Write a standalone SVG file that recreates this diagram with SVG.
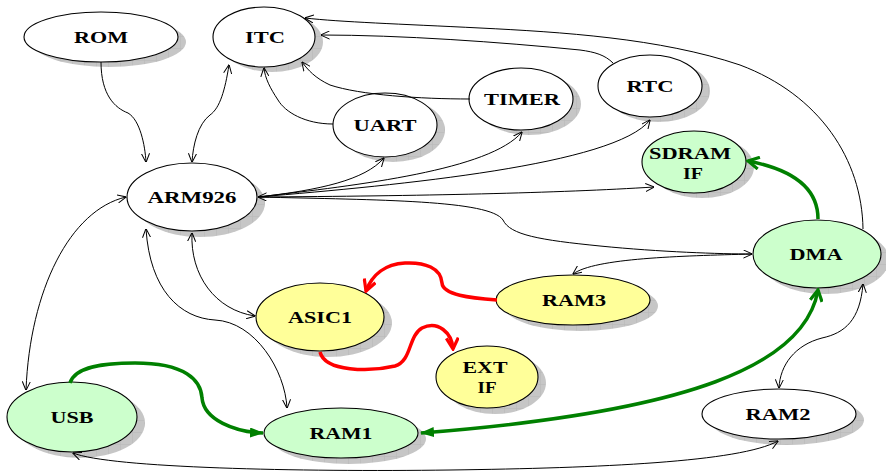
<svg xmlns="http://www.w3.org/2000/svg" width="886" height="474" viewBox="0 0 886 474">
  <style>
    .shadow { fill: url(#shade); stroke: none; }
    .node { stroke: #000; stroke-width: 1.1; }
    .plain { fill: #fff; }
    .green { fill: #ccffcc; }
    .yellow { fill: #ffff99; }
    .label { font-family: "Liberation Serif", "Times New Roman", serif; font-weight: bold; font-size: 17px; fill: #000; text-anchor: middle; }
    .edge { fill: none; stroke: #000; stroke-width: 1; }
    .edge-green { fill: none; stroke: #008000; stroke-width: 3.5; }
    .edge-red { fill: none; stroke: #ff0000; stroke-width: 3.5; }
  </style>
  <defs>
    <pattern id="shade" width="12" height="12" patternUnits="userSpaceOnUse">
      <rect width="12" height="12" fill="#c6c6c6"/>
      <path d="M0,0.5 H12 M0.5,0 V12" stroke="#b8b8b8" stroke-width="0.6"/>
    </pattern>
    <marker id="arrow" viewBox="0 0 10 10" refX="9.5" refY="5" markerWidth="9" markerHeight="9" markerUnits="userSpaceOnUse" orient="auto-start-reverse">
      <path d="M0,0.5 L10,5 L0,9.5" fill="none" stroke="#000" stroke-width="1.1"/>
    </marker>
    <marker id="chev-green" viewBox="0 0 14 14" refX="12" refY="7" markerWidth="14" markerHeight="14" markerUnits="userSpaceOnUse" orient="auto-start-reverse">
      <path d="M1,1 L12,7 L1,13" fill="none" stroke="#008000" stroke-width="3.2"/>
    </marker>
    <marker id="tri-green" viewBox="0 0 14 10" refX="13" refY="5" markerWidth="14" markerHeight="10" markerUnits="userSpaceOnUse" orient="auto-start-reverse">
      <path d="M0,0 L14,5 L0,10 Z" fill="#008000"/>
    </marker>
    <marker id="chev-red" viewBox="0 0 14 14" refX="12" refY="7" markerWidth="14" markerHeight="14" markerUnits="userSpaceOnUse" orient="auto-start-reverse">
      <path d="M1,1 L12,7 L1,13" fill="none" stroke="#ff0000" stroke-width="3.2"/>
    </marker>
  </defs>

  <rect width="886" height="474" fill="#fff"/>

  <!-- nodes -->
  <g id="rom">
    <ellipse class="shadow" cx="109" cy="42" rx="77" ry="25"/>
    <ellipse class="node plain" cx="101" cy="37" rx="77" ry="25"/>
    <text class="label" x="101" y="43" textLength="54" lengthAdjust="spacingAndGlyphs">ROM</text>
  </g>
  <g id="itc">
    <ellipse class="shadow" cx="272" cy="42" rx="51" ry="30"/>
    <ellipse class="node plain" cx="264" cy="37" rx="51" ry="30"/>
    <text class="label" x="265" y="43" textLength="40" lengthAdjust="spacingAndGlyphs">ITC</text>
  </g>
  <g id="uart">
    <ellipse class="shadow" cx="393" cy="130" rx="52" ry="32"/>
    <ellipse class="node plain" cx="385" cy="125" rx="52" ry="32"/>
    <text class="label" x="385" y="131" textLength="63" lengthAdjust="spacingAndGlyphs">UART</text>
  </g>
  <g id="timer">
    <ellipse class="shadow" cx="529" cy="104" rx="52" ry="31"/>
    <ellipse class="node plain" cx="521" cy="99" rx="52" ry="31"/>
    <text class="label" x="522" y="105" textLength="76" lengthAdjust="spacingAndGlyphs">TIMER</text>
  </g>
  <g id="rtc">
    <ellipse class="shadow" cx="658" cy="91" rx="52" ry="31"/>
    <ellipse class="node plain" cx="650" cy="86" rx="52" ry="31"/>
    <text class="label" x="650" y="92" textLength="47" lengthAdjust="spacingAndGlyphs">RTC</text>
  </g>
  <g id="sdram-if">
    <ellipse class="shadow" cx="702" cy="167" rx="52" ry="31"/>
    <ellipse class="node green" cx="694" cy="162" rx="52" ry="31"/>
    <text class="label" x="690" y="159" textLength="82" lengthAdjust="spacingAndGlyphs">SDRAM</text>
    <text class="label" x="693" y="179" textLength="20" lengthAdjust="spacingAndGlyphs">IF</text>
  </g>
  <g id="arm926">
    <ellipse class="shadow" cx="200" cy="203" rx="65" ry="34"/>
    <ellipse class="node plain" cx="192" cy="197" rx="65" ry="34"/>
    <text class="label" x="192" y="203" textLength="89" lengthAdjust="spacingAndGlyphs">ARM926</text>
  </g>
  <g id="dma">
    <ellipse class="shadow" cx="825" cy="260" rx="64" ry="34"/>
    <ellipse class="node green" cx="817" cy="254" rx="64" ry="34"/>
    <text class="label" x="816" y="260" textLength="53" lengthAdjust="spacingAndGlyphs">DMA</text>
  </g>
  <g id="ram3">
    <ellipse class="shadow" cx="581" cy="306" rx="77" ry="25"/>
    <ellipse class="node yellow" cx="573" cy="300" rx="77" ry="25"/>
    <text class="label" x="574" y="306" textLength="64" lengthAdjust="spacingAndGlyphs">RAM3</text>
  </g>
  <g id="asic1">
    <ellipse class="shadow" cx="328" cy="323" rx="64" ry="34"/>
    <ellipse class="node yellow" cx="320" cy="317" rx="64" ry="34"/>
    <text class="label" x="320" y="323" textLength="64" lengthAdjust="spacingAndGlyphs">ASIC1</text>
  </g>
  <g id="ext-if">
    <ellipse class="shadow" cx="495" cy="383" rx="51" ry="31"/>
    <ellipse class="node yellow" cx="487" cy="377" rx="51" ry="31"/>
    <text class="label" x="485" y="373" textLength="45" lengthAdjust="spacingAndGlyphs">EXT</text>
    <text class="label" x="487" y="393" textLength="19" lengthAdjust="spacingAndGlyphs">IF</text>
  </g>
  <g id="usb">
    <ellipse class="shadow" cx="80" cy="423" rx="65" ry="35"/>
    <ellipse class="node green" cx="72" cy="417" rx="65" ry="35"/>
    <text class="label" x="72" y="423" textLength="43" lengthAdjust="spacingAndGlyphs">USB</text>
  </g>
  <g id="ram1">
    <ellipse class="shadow" cx="349" cy="439" rx="77" ry="25"/>
    <ellipse class="node green" cx="341" cy="433" rx="77" ry="25"/>
    <text class="label" x="341" y="439" textLength="63" lengthAdjust="spacingAndGlyphs">RAM1</text>
  </g>
  <g id="ram2">
    <ellipse class="shadow" cx="787" cy="420" rx="77" ry="25"/>
    <ellipse class="node plain" cx="779" cy="414" rx="77" ry="25"/>
    <text class="label" x="778" y="420" textLength="65" lengthAdjust="spacingAndGlyphs">RAM2</text>
  </g>

  <!-- connectors -->
  <g id="connectors">
    <!-- bus links -->
    <path class="edge" d="M101,62 C101,95 115,108 128,113 C140,120 145,145 146,162" marker-end="url(#arrow)"/>
    <path class="edge" d="M229,65 C225,90 220,108 210,115 C198,124 193,145 192,162" marker-start="url(#arrow)" marker-end="url(#arrow)"/>
    <path class="edge" d="M333,124 C305,124 285,112 278,100 C270,88 265,78 264,68" marker-end="url(#arrow)"/>
    <path class="edge" d="M470,99 C420,99 360,95 330,85 C315,78 308,70 302,62" marker-end="url(#arrow)"/>
    <path class="edge" d="M613,63 C605,55 595,52 580,50 C500,42 400,35 321,35" marker-end="url(#arrow)"/>
    <path class="edge" d="M863,229 C862,160 820,95 740,65 C660,38 560,32 480,28 C400,24 340,22 305,18" marker-end="url(#arrow)"/>

    <!-- ARM926 fan-out -->
    <path class="edge" d="M258,197 C320,190 365,180 384,158" marker-end="url(#arrow)"/>
    <path class="edge" d="M258,197 C360,185 490,170 522,132" marker-end="url(#arrow)"/>
    <path class="edge" d="M258,197 C400,185 615,165 650,120" marker-end="url(#arrow)"/>
    <path class="edge" d="M258,197 C420,196 560,193 654,187" marker-start="url(#arrow)" marker-end="url(#arrow)"/>
    <path class="edge" d="M258,197 C380,200 490,200 503,220 C510,235 540,240 600,246 C660,252 720,254 752,254" marker-end="url(#arrow)"/>
    <path class="edge" d="M752,254 C680,256 595,258 573,274" marker-end="url(#arrow)"/>

    <path class="edge" d="M126,197 C70,210 30,290 26,390" marker-start="url(#arrow)" marker-end="url(#arrow)"/>
    <path class="edge" d="M192,233 C190,275 215,310 255,316" marker-start="url(#arrow)" marker-end="url(#arrow)"/>
    <path class="edge" d="M146,229 C150,290 180,318 215,320 C255,322 285,370 287,408" marker-start="url(#arrow)" marker-end="url(#arrow)"/>
    <path class="edge" d="M73,453 C110,468 300,472 450,470 C600,468 740,462 778,441" marker-start="url(#arrow)" marker-end="url(#arrow)"/>
    <path class="edge" d="M863,284 C860,320 845,333 822,338 C795,345 780,365 779,388" marker-start="url(#arrow)" marker-end="url(#arrow)"/>

    <!-- red paths -->
    <path class="edge-red" d="M497,300 C470,298 443,295 442,283 C441,268 425,262 405,263 C385,264 372,275 366,291" marker-end="url(#chev-red)"/>
    <path class="edge-red" d="M320,352 C325,372 370,372 395,366 C412,361 408,336 422,328 C438,320 452,333 453,349" marker-end="url(#chev-red)"/>

    <!-- green paths -->
    <path class="edge-green" d="M818,219 C818,190 795,170 748,161" marker-end="url(#chev-green)"/>
    <path class="edge-green" d="M70,383 C75,366 105,363 135,363 C185,363 201,380 202,398 C204,420 235,432 263,433" marker-end="url(#tri-green)"/>
    <path class="edge-green" d="M818,290 C805,365 690,412 421,433" marker-start="url(#chev-green)" marker-end="url(#tri-green)"/>
  </g>
</svg>
